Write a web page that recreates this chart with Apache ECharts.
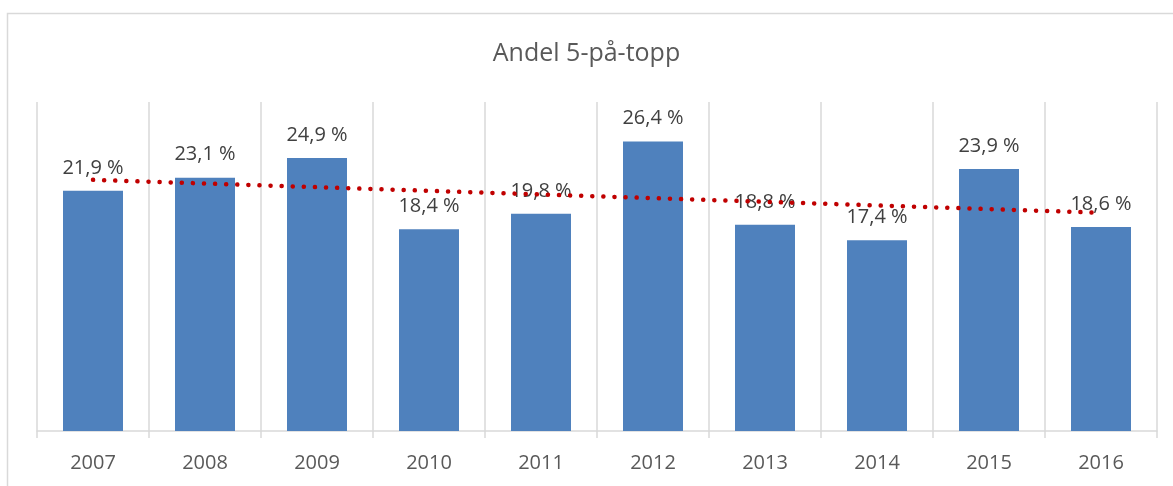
<!DOCTYPE html>
<html>
<head>
<meta charset="utf-8">
<script src="https://cdn.jsdelivr.net/npm/echarts@6/dist/echarts.min.js"></script>
<style>
  html, body { margin: 0; padding: 0; background: #fff; }
  #chart { width: 1173px; height: 486px; }
</style>
</head>
<body>
<div id="chart"></div>
<script>
// data
var years = ['2007', '2008', '2009', '2010', '2011', '2012', '2013', '2014', '2015', '2016'];
var andel = [21.9, 23.1, 24.9, 18.4, 19.8, 26.4, 18.8, 17.4, 23.9, 18.6];
// trendline: only the two ends
var trend = [22.9, null, null, null, null, null, null, null, null, 19.9];

var font = '"Open Sans", "Noto Sans", sans-serif';
var chart = echarts.init(document.getElementById('chart'));

chart.setOption({
  animation: false,
  title: {
    text: 'Andel 5-på-topp',
    left: 'center',
    top: 36,
    textStyle: { fontFamily: font, fontSize: 25, fontWeight: 'normal', color: '#595959' }
  },
  graphic: [{
    type: 'rect',
    shape: { x: 7.5, y: 13.5, width: 1200, height: 500 },
    style: { fill: 'none', stroke: '#D9D9D9', lineWidth: 1.5 },
    silent: true
  }],
  grid: { left: 37, right: 16, top: 102, bottom: 55 },
  xAxis: {
    type: 'category',
    data: years,
    axisLine: { lineStyle: { color: '#D9D9D9', width: 1.5 } },
    axisTick: { show: true, length: 7, lineStyle: { color: '#D9D9D9', width: 1.5 } },
    splitLine: { show: true, lineStyle: { color: '#D9D9D9', width: 1.5 } },
    axisLabel: { fontFamily: font, fontSize: 20, color: '#595959', margin: 22 }
  },
  yAxis: {
    type: 'value',
    min: 0,
    max: 30,
    show: false,
    splitLine: { show: false }
  },
  series: [
    {
      type: 'bar',
      data: andel,
      barWidth: 60,
      itemStyle: { color: '#4F81BD' },
      label: {
        show: true,
        position: 'top',
        distance: 13,
        fontFamily: font,
        fontSize: 20,
        color: '#404040',
        formatter: function (p) { return p.value.toFixed(1).replace('.', ',') + ' %'; }
      }
    },
    {
      type: 'line',
      data: trend,
      connectNulls: true,
      symbol: 'none',
      z: 5,
      lineStyle: { color: '#C00000', width: 4.5, type: [0.1, 11], cap: 'round' }
    }
  ]
});
</script>
</body>
</html>
